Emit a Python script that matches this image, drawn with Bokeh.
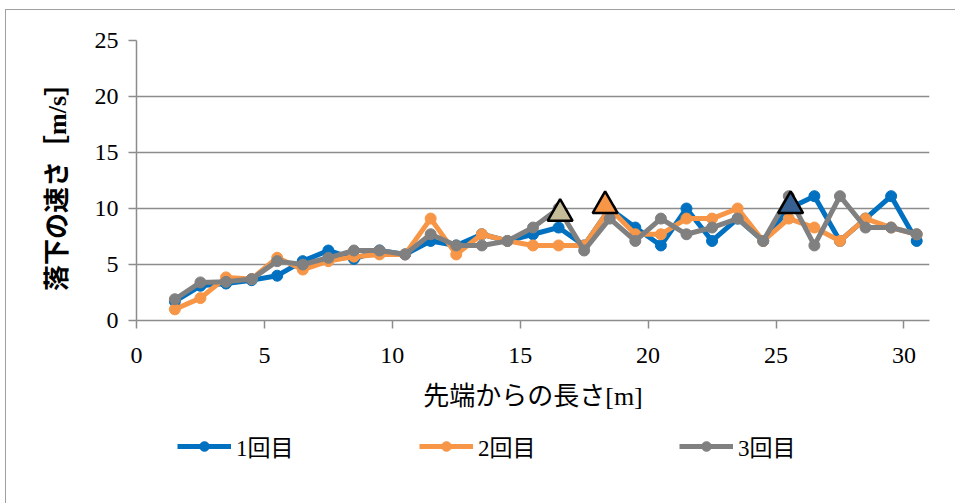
from bokeh.plotting import figure
from bokeh.layouts import column
from bokeh.models import Legend, LegendItem, Range1d
from bokeh.embed import file_html
from bokeh.resources import INLINE

# Distance from the tip [m] (centre of each 1 m section)
distance = [1.5, 2.5, 3.5, 4.5, 5.5, 6.5, 7.5, 8.5, 9.5, 10.5,
            11.5, 12.5, 13.5, 14.5, 15.5, 16.5, 17.5, 18.5, 19.5, 20.5,
            21.5, 22.5, 23.5, 24.5, 25.5, 26.5, 27.5, 28.5, 29.5, 30.5]

# Falling speed [m/s] for each trial
speed_run1 = [1.7, 3.1, 3.3, 3.6, 4.0, 5.3, 6.25, 5.5, 6.25, 5.9,
              7.1, 6.7, 7.7, 7.1, 7.7, 8.3, 6.7, 10.0, 8.3, 6.7,
              10.0, 7.1, 9.1, 7.1, 10.0, 11.1, 7.1, 9.1, 11.1, 7.1]
speed_run2 = [1.0, 2.0, 3.85, 3.7, 5.6, 4.55, 5.3, 5.7, 5.9, 5.9,
              9.1, 5.9, 7.7, 7.1, 6.7, 6.7, 6.7, 10.0, 7.7, 7.7,
              9.1, 9.1, 10.0, 7.1, 9.1, 8.3, 7.1, 9.1, 8.3, 7.7]
speed_run3 = [1.9, 3.4, 3.45, 3.7, 5.3, 5.0, 5.6, 6.25, 6.25, 5.9,
              7.7, 6.7, 6.7, 7.1, 8.3, 10.0, 6.25, 9.1, 7.1, 9.1,
              7.7, 8.3, 9.1, 7.1, 11.1, 6.7, 11.1, 8.3, 8.3, 7.7]

series_names = ["1回目", "2回目", "3回目"]
series_colors = ["#0070C0", "#F79646", "#808080"]
all_runs = [speed_run1, speed_run2, speed_run3]

# Triangle markers
marker_x = [16.56, 18.32, 25.57]
marker_y = [9.55, 10.24, 10.24]
marker_colors = ["#C4BD97", "#F79646", "#376092"]

x_ticks = [0, 5, 10, 15, 20, 25, 30]
y_ticks = [0, 5, 10, 15, 20, 25]

SERIF = "'Liberation Serif', 'Noto Sans CJK JP', serif"
GRID = "#8C8C8C"
LINE_W = 5
DOT = 11

p = figure(width=949, height=420,
           x_range=Range1d(0, 31), y_range=Range1d(0, 25),
           output_backend="svg", toolbar_location=None,
           min_border_left=130, min_border_right=26,
           min_border_top=30, min_border_bottom=110,
           background_fill_color="white", border_fill_color="white")
p.outline_line_color = None

# axes
for ax in (p.xaxis[0], p.yaxis[0]):
    ax.axis_line_color = GRID
    ax.axis_line_width = 1.5
    ax.major_tick_line_color = GRID
    ax.major_tick_line_width = 1.5
    ax.major_tick_out = 8
    ax.major_tick_in = 0
    ax.minor_tick_line_color = None
    ax.major_label_text_font = SERIF
    ax.major_label_text_font_size = "24px"
    ax.major_label_text_color = "#000000"
    ax.axis_label_text_font = SERIF
    ax.axis_label_text_font_size = "26px"
    ax.axis_label_text_color = "#000000"

p.xaxis.ticker = x_ticks
p.yaxis.ticker = y_ticks
p.xaxis.major_label_standoff = 19
p.yaxis.major_label_standoff = 10
p.xaxis.axis_label = "先端からの長さ[m]"
p.xaxis.axis_label_text_font_style = "normal"
p.xaxis.axis_label_standoff = 16
p.yaxis.axis_label = "落下の速さ［m/s］"
p.yaxis.axis_label_text_font_style = "bold"
p.yaxis.axis_label_standoff = 20

p.xgrid.grid_line_color = None
p.ygrid.grid_line_color = GRID
p.ygrid.grid_line_width = 1.5
p.ygrid.ticker = y_ticks

for ys, color in zip(all_runs, series_colors):
    p.line(distance, ys, line_color=color, line_width=LINE_W)
    p.scatter(distance, ys, marker="circle", size=DOT,
              fill_color=color, line_color=color)

p.scatter(marker_x, marker_y, marker="triangle", size=25,
          fill_color=marker_colors, line_color="black", line_width=2.5)

# legend strip under the chart; its ranges keep the series out of view,
# so only the legend entries show
key = figure(width=949, height=73,
             x_range=Range1d(0, 31), y_range=Range1d(100, 200),
             output_backend="svg", toolbar_location=None,
             x_axis_location=None, y_axis_location=None,
             min_border=0, min_border_left=0, min_border_right=0,
             min_border_top=0, min_border_bottom=0,
             background_fill_color="white", border_fill_color="white")
key.outline_line_color = None
key.xgrid.grid_line_color = None
key.ygrid.grid_line_color = None

# offsets from the left edge of the plotting area
legend_x = [41, 283, 543]
for ys, color, name, lx in zip(all_runs, series_colors, series_names, legend_x):
    ln = key.line(distance, ys, line_color=color, line_width=LINE_W)
    sc = key.scatter(distance, ys, marker="circle", size=DOT,
                     fill_color=color, line_color=color)
    lg = Legend(items=[LegendItem(label=name, renderers=[ln, sc])],
                location=(lx, 40), orientation="horizontal",
                glyph_width=54, glyph_height=24, label_height=24,
                label_standoff=5,
                label_text_font=SERIF, label_text_font_size="23px",
                label_text_color="#000000",
                padding=0, margin=0, spacing=0,
                border_line_color=None, background_fill_alpha=0)
    key.add_layout(lg, "center")

page = column(p, key, spacing=0,
              styles={"margin-left": "5px", "margin-top": "9px",
                      "border-left": "1px solid #A0A0A0",
                      "border-top": "1px solid #A0A0A0"})

open("out.html", "w").write(file_html(page, INLINE))
